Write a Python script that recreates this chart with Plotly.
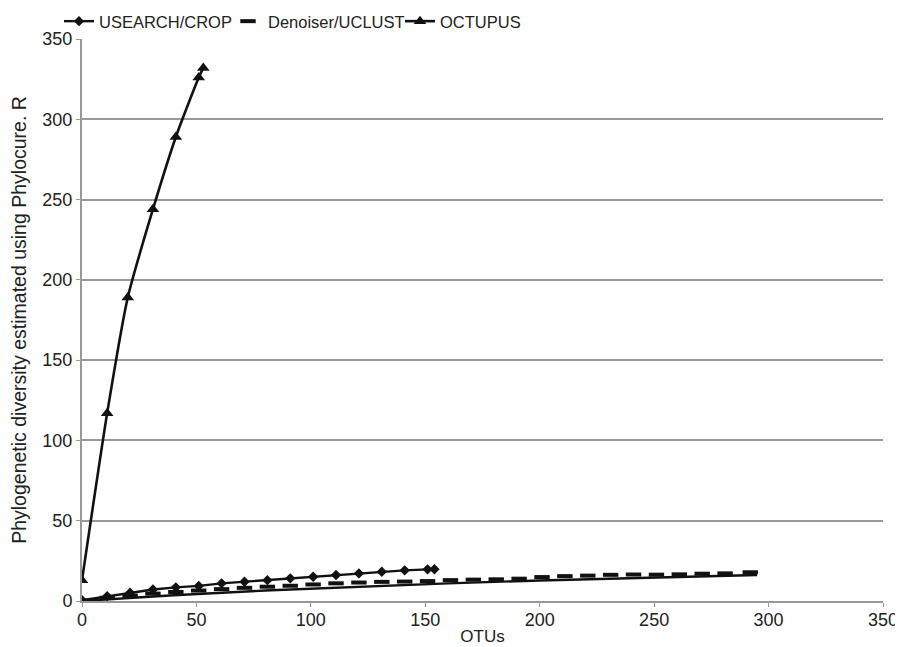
import plotly.graph_objects as go

# USEARCH/CROP
us_x = [0, 11, 21, 31, 41, 51, 61, 71, 81, 91, 101, 111, 121, 131, 141, 151, 154]
us_y = [0.5, 3, 5.2, 7.2, 8.5, 9.4, 11, 12, 13, 14.1, 15.1, 16.2, 17.2, 18.2, 19.1, 19.7, 19.8]

# Denoiser/UCLUST
dn_x = [0, 11, 21, 31, 41, 51, 61, 71, 81, 91, 101, 111, 121, 131, 141, 151, 161, 171, 181,
        191, 201, 211, 221, 231, 241, 251, 261, 271, 281, 292]
dn_y = [0.3, 2, 3.4, 4.6, 5.6, 6.5, 7.4, 8.2, 8.9, 9.5, 10.3, 11, 11.5, 11.9, 12.1, 12.4, 13,
        13.3, 13.5, 13.9, 14.9, 15.5, 15.8, 16.3, 16.5, 16.4, 16.6, 17, 17.2, 17.9]

# OCTUPUS
oc_x = [0, 11, 20, 31, 41, 51, 53]
oc_y = [13, 117, 189, 244, 289, 326, 332]

# unlabelled lower line
lo_x = [0, 40, 80, 120, 160, 200, 240, 295]
lo_y = [0, 3.6, 6.5, 8.8, 11, 12.8, 14.4, 16.2]

x_ticks = [0, 50, 100, 150, 200, 250, 300, 350]
y_ticks = [0, 50, 100, 150, 200, 250, 300, 350]

ink = "#111111"
fig = go.Figure()
fig.add_trace(go.Scatter(x=lo_x, y=lo_y, mode="lines", line=dict(color=ink, width=2.4),
                         showlegend=False, hoverinfo="skip"))
fig.add_trace(go.Scatter(x=us_x, y=us_y, mode="lines+markers", name="USEARCH/CROP",
                         line=dict(color=ink, width=2.4), legend="legend",
                         marker=dict(symbol="diamond", size=8, color=ink)))
fig.add_trace(go.Scatter(x=dn_x, y=dn_y, mode="markers", name="Denoiser/UCLUST",
                         legend="legend2",
                         marker=dict(symbol="line-ew", size=11, color=ink,
                                     line=dict(color=ink, width=4))))
fig.add_trace(go.Scatter(x=oc_x, y=oc_y, mode="lines+markers", name="OCTUPUS",
                         legend="legend3",
                         line=dict(color=ink, width=2.6, shape="spline", smoothing=0.6),
                         marker=dict(symbol="triangle-up", size=11, color=ink)))

W, H = 895, 639
leg_common = dict(orientation="h", y=0.979, xanchor="left", yanchor="middle",
                  xref="container", yref="container", font=dict(size=16.5),
                  itemwidth=30, bgcolor="rgba(0,0,0,0)")

fig.update_layout(
    width=W, height=H,
    margin=dict(l=74, r=20, t=31, b=46, autoexpand=False),
    plot_bgcolor="white", paper_bgcolor="white",
    font=dict(family="Liberation Sans, Arial, sans-serif", size=17, color="#222"),
    legend=dict(x=51 / W, **leg_common),
    legend2=dict(x=220 / W, **leg_common),
    legend3=dict(x=392 / W, **leg_common),
    xaxis=dict(range=[0, 350], tickvals=x_ticks, showgrid=False, zeroline=False,
               showline=True, linecolor="#999", linewidth=2, ticks="outside",
               tickcolor="#999", ticklen=4, automargin=False,
               tickfont=dict(size=18), ticklabelstandoff=-3,
               title=dict(text="OTUs", standoff=2, font=dict(size=17))),
    yaxis=dict(range=[0, 350], tickvals=y_ticks, showgrid=True, gridcolor="#999",
               gridwidth=1.5, zeroline=False, showline=True, linecolor="#999",
               linewidth=2, ticks="outside", tickcolor="#999", ticklen=4,
               automargin=False, tickfont=dict(size=18),
               title=dict(text="Phylogenetic diversity estimated using Phylocure. R",
                          standoff=12, font=dict(size=19.5))),
)

fig.write_html("out.html")
